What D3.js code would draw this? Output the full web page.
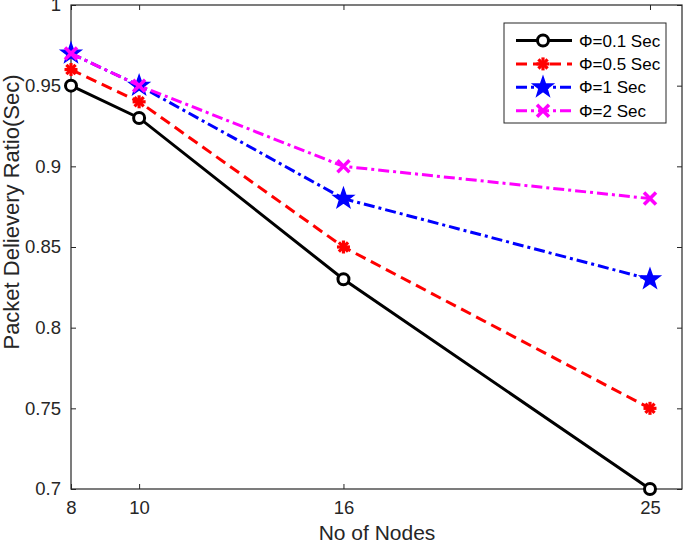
<!DOCTYPE html>
<html lang="en">
<head>
    <meta charset="UTF-8">
    <title>Packet Delivery Ratio</title>
    <script src="https://d3js.org/d3.v7.min.js"></script>
    <style>
        body { margin: 0; background: #fff; }
        svg { font-family: "Liberation Sans", Arial, sans-serif; }
    </style>
</head>
<body>
    <svg width="685" height="545"></svg>
    <script>
        const nodes = [8, 10, 16, 25];
        const xTicks = [8, 10, 16, 25];
        const yTicks = [0.7, 0.75, 0.8, 0.85, 0.9, 0.95, 1];
        const seriesNames = ["\u03A6=0.1 Sec", "\u03A6=0.5 Sec", "\u03A6=1 Sec", "\u03A6=2 Sec"];
        const phi01 = [0.95, 0.93, 0.83, 0.70];
        const phi05 = [0.96, 0.94, 0.85, 0.75];
        const phi1 = [0.97, 0.95, 0.88, 0.83];
        const phi2 = [0.97, 0.95, 0.90, 0.88];

        const series = [
            {name: seriesNames[0], values: phi01, color: "#000000", dash: null, marker: "circle"},
            {name: seriesNames[1], values: phi05, color: "#ff0000", dash: "11,6", marker: "asterisk"},
            {name: seriesNames[2], values: phi1, color: "#0000ff", dash: "11,4,3,4", marker: "star"},
            {name: seriesNames[3], values: phi2, color: "#ff00ff", dash: "11,4,3,4", marker: "cross"}
        ];

        const svg = d3.select("svg");
        const plotL = 71, plotR = 682, plotT = 5, plotB = 489;

        const x = d3.scaleLinear().domain([8, 25.94]).range([plotL, plotR]);
        const y = d3.scaleLinear().domain([0.7, 1]).range([plotB, plotT]);

        // axes box with inward ticks on all sides
        const axisColor = "#262626";
        svg.append("g").attr("transform", `translate(0,${plotB})`)
            .call(d3.axisBottom(x).tickValues(xTicks).tickSize(-5).tickPadding(12).tickFormat(d3.format("d")))
            .call(g => g.select(".domain").remove());
        svg.append("g").attr("transform", `translate(0,${plotT})`)
            .call(d3.axisTop(x).tickValues(xTicks).tickSize(-5).tickFormat(""))
            .call(g => g.select(".domain").remove());
        svg.append("g").attr("transform", `translate(${plotL},0)`)
            .call(d3.axisLeft(y).tickValues(yTicks).tickSize(-5).tickPadding(10).tickFormat(d => d3.format("")(+d.toFixed(2))))
            .call(g => g.select(".domain").remove());
        svg.append("g").attr("transform", `translate(${plotR},0)`)
            .call(d3.axisRight(y).tickValues(yTicks).tickSize(-5).tickFormat(""))
            .call(g => g.select(".domain").remove());

        svg.selectAll(".tick line").attr("stroke", axisColor).attr("stroke-width", 1);
        svg.selectAll(".tick text").attr("fill", axisColor).attr("font-size", 18.5)
            .attr("font-family", "Liberation Sans, Arial, sans-serif");

        svg.append("rect")
            .attr("x", plotL).attr("y", plotT)
            .attr("width", plotR - plotL).attr("height", plotB - plotT)
            .attr("fill", "none").attr("stroke", axisColor).attr("stroke-width", 1.2);

        const line = d3.line().x((d, i) => x(nodes[i])).y(d => y(d));

        function drawMarker(g, type, color, cx, cy, s) {
            if (type === "circle") {
                g.append("circle").attr("cx", cx).attr("cy", cy).attr("r", 5.5 * s)
                    .attr("fill", "#fff").attr("stroke", color).attr("stroke-width", 3);
            } else if (type === "asterisk") {
                const r = 6.5 * s;
                const a = r * Math.SQRT1_2;
                const segs = [[-r, 0, r, 0], [0, -r, 0, r], [-a, -a, a, a], [-a, a, a, -a]];
                segs.forEach(p => g.append("line")
                    .attr("x1", cx + p[0]).attr("y1", cy + p[1])
                    .attr("x2", cx + p[2]).attr("y2", cy + p[3])
                    .attr("stroke", color).attr("stroke-width", 3.2));
            } else if (type === "star") {
                const R = 10.5 * s, r = 4.2 * s;
                const pts = d3.range(10).map(k => {
                    const ang = -Math.PI / 2 + k * Math.PI / 5;
                    const rr = k % 2 === 0 ? R : r;
                    return [cx + rr * Math.cos(ang), cy + rr * Math.sin(ang)];
                });
                g.append("polygon").attr("points", pts.map(p => p.join(",")).join(" "))
                    .attr("fill", color).attr("stroke", color).attr("stroke-width", 1.5);
            } else if (type === "cross") {
                const r = 6 * s;
                [[-r, -r, r, r], [-r, r, r, -r]].forEach(p => g.append("line")
                    .attr("x1", cx + p[0]).attr("y1", cy + p[1])
                    .attr("x2", cx + p[2]).attr("y2", cy + p[3])
                    .attr("stroke", color).attr("stroke-width", 3.5));
            }
        }

        // draw series (later ones on top like MATLAB)
        series.forEach(s => {
            const g = svg.append("g");
            g.append("path").datum(s.values)
                .attr("d", line)
                .attr("fill", "none")
                .attr("stroke", s.color)
                .attr("stroke-width", 3)
                .attr("stroke-dasharray", s.dash);
            s.values.forEach((v, i) => drawMarker(g, s.marker, s.color, x(nodes[i]), y(v), 1));
        });

        // legend
        const lg = svg.append("g");
        lg.append("rect").attr("x", 504).attr("y", 23).attr("width", 162).attr("height", 100)
            .attr("fill", "#fff").attr("stroke", axisColor).attr("stroke-width", 1);
        series.forEach((s, i) => {
            const ly = 40.5 + i * 23.4;
            lg.append("line").attr("x1", 516).attr("x2", 572).attr("y1", ly).attr("y2", ly)
                .attr("stroke", s.color).attr("stroke-width", 3).attr("stroke-dasharray", s.dash);
            drawMarker(lg, s.marker, s.color, 543, ly, 1);
            lg.append("text").attr("x", 579).attr("y", ly + 6)
                .attr("font-size", 17).attr("fill", "#000").text(s.name);
        });

        // axis labels
        svg.append("text").attr("x", 377).attr("y", 540)
            .attr("text-anchor", "middle").attr("font-size", 21).attr("fill", axisColor)
            .text("No of Nodes");
        svg.append("text")
            .attr("transform", "translate(19,212) rotate(-90)")
            .attr("text-anchor", "middle").attr("font-size", 22).attr("fill", axisColor)
            .text("Packet Delievery Ratio(Sec)");
    </script>
</body>
</html>
